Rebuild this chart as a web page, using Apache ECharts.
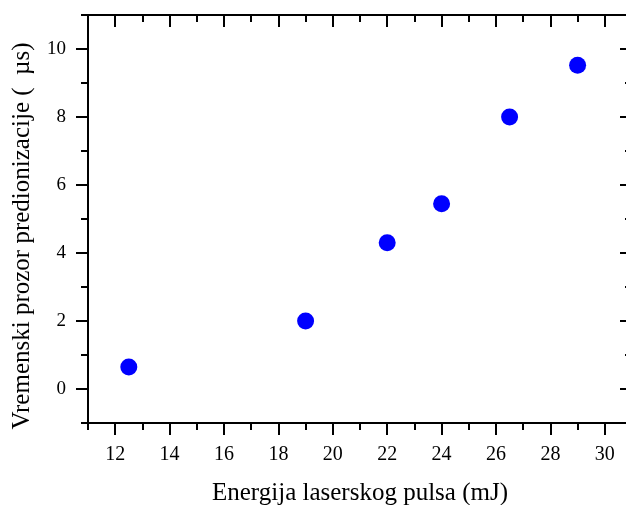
<!DOCTYPE html>
<html>
<head>
<meta charset="utf-8">
<script src="https://cdn.jsdelivr.net/npm/echarts@6/dist/echarts.min.js"></script>
<style>html,body{margin:0;padding:0;background:#fff}#c{width:626px;height:505px}</style>
</head>
<body>
<div id="c"></div>
<script>
var energy = [12.5, 19, 22, 24, 26.5, 29];
var window_us = [0.65, 2.0, 4.3, 5.45, 8.0, 9.52];
var xMajor = [12, 14, 16, 18, 20, 22, 24, 26, 28, 30];
var xMinor = [11, 13, 15, 17, 19, 21, 23, 25, 27, 29, 31];
var yMajor = [0, 2, 4, 6, 8, 10];
var yMinor = [-1, 1, 3, 5, 7, 9, 11];
var xTitle = 'Energija laserskog pulsa (mJ)';
var yTitle = 'Vremenski prozor predionizacije (  µs)';

var FONT = 'Liberation Serif';
var lineStyle = {color: '#000', width: 2};

function xAx(pos, ticks, len, inside, showLine, labels, name) {
  return {
    type: 'value', min: 11, max: 31, position: pos, gridIndex: 0,
    axisLine: {show: showLine, onZero: false, lineStyle: lineStyle},
    axisTick: {show: true, inside: inside, length: len, customValues: ticks, lineStyle: {color: '#000', width: 2}},
    axisLabel: labels ? {show: true, customValues: ticks, margin: 22, fontFamily: FONT, fontSize: 20, color: '#000'} : {show: false},
    splitLine: {show: false},
    name: name || '', nameLocation: 'middle', nameGap: 58,
    nameTextStyle: {fontFamily: FONT, fontSize: 25, color: '#000'}
  };
}
function yAx(pos, ticks, len, inside, showLine, labels, name) {
  return {
    type: 'value', min: -1, max: 11, position: pos, gridIndex: 0,
    axisLine: {show: showLine, onZero: false, lineStyle: lineStyle},
    axisTick: {show: true, inside: inside, length: len, customValues: ticks, lineStyle: {color: '#000', width: 2}},
    axisLabel: labels ? {show: true, customValues: ticks, margin: 22, fontFamily: FONT, fontSize: 19, color: '#000'} : {show: false},
    splitLine: {show: false},
    name: name || '', nameLocation: 'middle', nameGap: 53,
    nameTextStyle: {fontFamily: FONT, fontSize: 25, color: '#000', padding: [0, 34, 0, 0]}
  };
}

var chart = echarts.init(document.getElementById('c'));
chart.setOption({
  animation: false,
  backgroundColor: '#fff',
  grid: {left: 88, top: 15, width: 544, height: 408, containLabel: false, outerBoundsMode: 'none'},
  xAxis: [
    xAx('bottom', xMajor, 12, false, true, true, xTitle),
    xAx('bottom', xMinor, 7, false, false, false),
    xAx('top', xMajor, 12, true, true, false),
    xAx('top', xMinor, 7, true, false, false)
  ],
  yAxis: [
    yAx('left', yMajor, 12, false, true, true, yTitle),
    yAx('left', yMinor, 7, false, false, false),
    yAx('right', yMajor, 12, true, true, false),
    yAx('right', yMinor, 7, true, false, false)
  ],
  series: [{
    type: 'scatter', xAxisIndex: 0, yAxisIndex: 0,
    symbol: 'circle', symbolSize: 17,
    itemStyle: {color: '#0000ff', opacity: 1},
    data: energy.map(function (x, i) { return [x, window_us[i]]; })
  }]
});
</script>
</body>
</html>
